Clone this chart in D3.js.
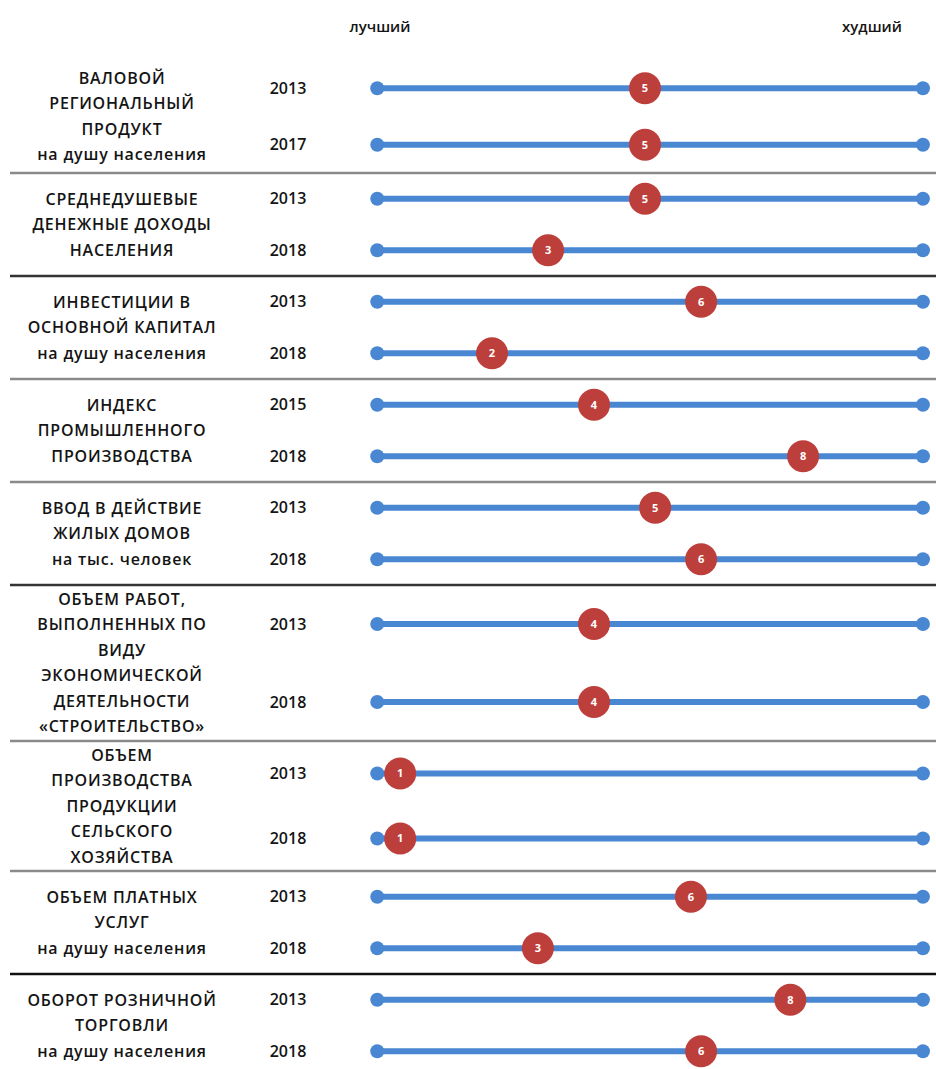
<!DOCTYPE html>
<html>
<head>
<meta charset="utf-8">
<script src="https://cdn.jsdelivr.net/npm/d3@7"></script>
<style>
  body { margin: 0; background: #fff; }
  text { font-family: "Open Sans", "DejaVu Sans", sans-serif; fill: #141414; }
</style>
</head>
<body>
<div id="chart"></div>
<script>
// indicator groups: label lines
var groupLabels = [
  ['ВАЛОВОЙ', 'РЕГИОНАЛЬНЫЙ', 'ПРОДУКТ', 'на душу населения'],
  ['СРЕДНЕДУШЕВЫЕ', 'ДЕНЕЖНЫЕ ДОХОДЫ', 'НАСЕЛЕНИЯ'],
  ['ИНВЕСТИЦИИ В', 'ОСНОВНОЙ КАПИТАЛ', 'на душу населения'],
  ['ИНДЕКС', 'ПРОМЫШЛЕННОГО', 'ПРОИЗВОДСТВА'],
  ['ВВОД В ДЕЙСТВИЕ', 'ЖИЛЫХ ДОМОВ', 'на тыс. человек'],
  ['ОБЪЕМ РАБОТ,', 'ВЫПОЛНЕННЫХ ПО', 'ВИДУ', 'ЭКОНОМИЧЕСКОЙ', 'ДЕЯТЕЛЬНОСТИ', '«СТРОИТЕЛЬСТВО»'],
  ['ОБЪЕМ', 'ПРОИЗВОДСТВА', 'ПРОДУКЦИИ', 'СЕЛЬСКОГО', 'ХОЗЯЙСТВА'],
  ['ОБЪЕМ ПЛАТНЫХ', 'УСЛУГ', 'на душу населения'],
  ['ОБОРОТ РОЗНИЧНОЙ', 'ТОРГОВЛИ', 'на душу населения']
];
// years per group (first row, second row)
var groupYears = [
  ['2013', '2017'],
  ['2013', '2018'],
  ['2013', '2018'],
  ['2015', '2018'],
  ['2013', '2018'],
  ['2013', '2018'],
  ['2013', '2018'],
  ['2013', '2018'],
  ['2013', '2018']
];
// rank shown in the marker
var ranks = [
  [5, 5],
  [5, 3],
  [6, 2],
  [4, 8],
  [5, 6],
  [4, 4],
  [1, 1],
  [6, 3],
  [8, 6]
];
// where the marker sits on the line, in rank units
var placed = [
  [5.0, 5.0],
  [5.0, 3.1],
  [6.1, 2.0],
  [4.0, 8.1],
  [5.2, 6.1],
  [4.0, 4.0],
  [0.2, 0.2],
  [5.9, 2.9],
  [7.85, 6.1]
];
var scaleEnds = [-0.25, 10.45];
var axisLabels = ['лучший', 'худший'];
var sepColors = ['#8a8a8a', '#333', '#8a8a8a', '#8a8a8a', '#333', '#8a8a8a', '#8a8a8a', '#111'];

var width = 936, height = 1069;
var top0 = 60, lineH = 25.5, minGroupH = 103, firstGroupH = 113;
var labelX = 122, yearX = 288;
var blue = '#4a87d2', red = '#bd3f3b';

var x = d3.scaleLinear().domain([0, 10]).range([390, 900]);

// group layout
var groups = [];
var yCur = top0;
groupLabels.forEach(function(lines, i) {
  var h = i === 0 ? firstGroupH : Math.max(minGroupH, lines.length * 26);
  groups.push({ i: i, y0: yCur, h: h, lines: lines });
  yCur += h;
});

var svg = d3.select('#chart').append('svg')
  .attr('width', width)
  .attr('height', height);

/* header */
svg.append('text').attr('x', x(0) - 10).attr('y', 32).attr('text-anchor', 'middle')
  .style('font-size', '15px').style('font-weight', 600).text(axisLabels[0]);
svg.append('text').attr('x', 872).attr('y', 32).attr('text-anchor', 'middle')
  .style('font-size', '15px').style('font-weight', 600).text(axisLabels[1]);

var g = svg.selectAll('.group').data(groups).enter().append('g')
  .attr('class', 'group')
  .attr('transform', d => 'translate(0,' + d.y0 + ')');

/* separators */
g.filter(d => d.i < groups.length - 1).append('line')
  .attr('x1', 10).attr('x2', width)
  .attr('y1', d => d.h).attr('y2', d => d.h)
  .style('stroke', d => sepColors[d.i])
  .style('stroke-width', 2.5);

/* labels */
g.each(function(d) {
  var n = d.lines.length;
  var start = d.h / 2 - (n - 1) * lineH / 2;
  d3.select(this).selectAll('.lbl').data(d.lines).enter().append('text')
    .attr('class', 'lbl')
    .attr('x', labelX)
    .attr('y', (t, k) => start + k * lineH)
    .attr('dy', '0.35em')
    .attr('text-anchor', 'middle')
    .style('font-size', '16px')
    .style('font-weight', 600)
    .style('letter-spacing', '0.8px')
    .text(t => t);
});

/* rows */
var rowY = d3.scalePoint().domain([0, 1]).padding(0.5);

g.each(function(d) {
  rowY.range([0, d.h]);
  var rows = [0, 1].map(k => ({ year: groupYears[d.i][k], rank: ranks[d.i][k], pos: placed[d.i][k], y: rowY(k) }));
  var r = d3.select(this).selectAll('.row').data(rows).enter().append('g')
    .attr('class', 'row')
    .attr('transform', rr => 'translate(0,' + rr.y + ')');

  r.append('text')
    .attr('x', yearX).attr('y', 0).attr('dy', '0.35em')
    .attr('text-anchor', 'middle')
    .style('font-size', '16px')
    .style('font-weight', 600)
    .text(rr => rr.year);

  r.append('line')
    .attr('x1', x(scaleEnds[0])).attr('x2', x(scaleEnds[1]))
    .style('stroke', blue).style('stroke-width', 6);

  r.selectAll('.end').data(scaleEnds).enter().append('circle')
    .attr('class', 'end')
    .attr('cx', v => x(v)).attr('r', 7)
    .style('fill', blue);

  r.append('circle')
    .attr('cx', rr => x(rr.pos)).attr('r', 16)
    .style('fill', red);

  r.append('text')
    .attr('x', rr => x(rr.pos)).attr('dy', '0.35em')
    .attr('text-anchor', 'middle')
    .style('font-size', '11px').style('font-weight', 'bold')
    .style('fill', '#fff')
    .text(rr => rr.rank);
});
</script>
</body>
</html>
